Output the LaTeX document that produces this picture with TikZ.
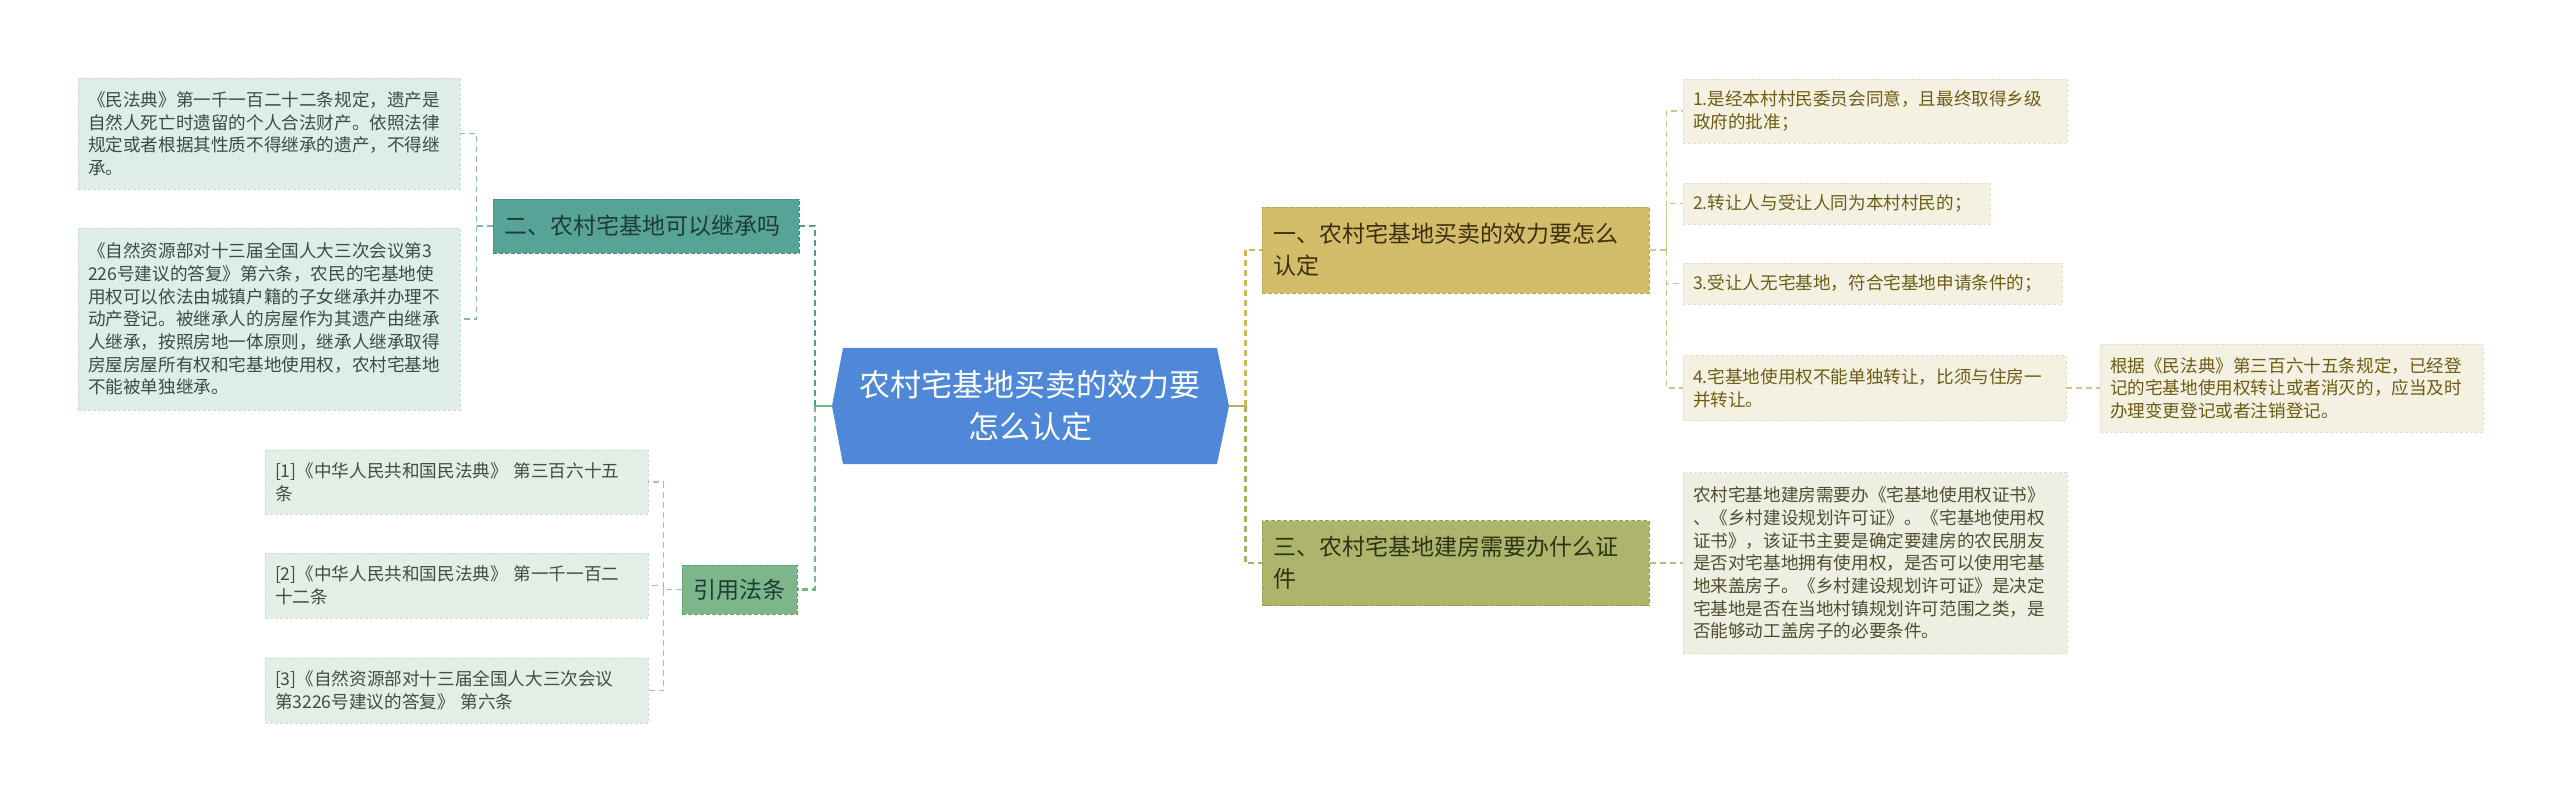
\documentclass[tikz,border=0pt]{standalone}
\usepackage{fontspec}
\setmainfont{Noto Sans CJK SC}
\usetikzlibrary{calc}
\definecolor{rootblue}{HTML}{4F87D9}
\definecolor{tealfill}{HTML}{57A398}
\definecolor{tealdraw}{HTML}{3F8E82}
\definecolor{tealtext}{HTML}{1E3B36}
\definecolor{greenfill}{HTML}{7DB68A}
\definecolor{greendraw}{HTML}{5E9C6D}
\definecolor{goldfill}{HTML}{D4BD6A}
\definecolor{golddraw}{HTML}{BFA550}
\definecolor{goldtext}{HTML}{3A2F0F}
\definecolor{olivefill}{HTML}{ACB56B}
\definecolor{olivedraw}{HTML}{939C52}
\definecolor{olivetext}{HTML}{2F3315}
\definecolor{lleaffill}{HTML}{DEECEA}
\definecolor{lleafdraw}{HTML}{C6DCD8}
\definecolor{lleaftext}{HTML}{3C4B48}
\definecolor{rleaffill}{HTML}{E2EEE6}
\definecolor{rleafdraw}{HTML}{CCE0D2}
\definecolor{rleaftext}{HTML}{3E4E44}
\definecolor{ileaffill}{HTML}{F4F1E2}
\definecolor{ileafdraw}{HTML}{E6DFC4}
\definecolor{ileaftext}{HTML}{6E5B14}
\definecolor{tleaffill}{HTML}{EEEFE2}
\definecolor{tleafdraw}{HTML}{DDDFC8}
\definecolor{tleaftext}{HTML}{4E4E2E}
\definecolor{trunkteal}{HTML}{4F9E90}
\definecolor{trunkgreen}{HTML}{78B487}
\definecolor{trunkgold}{HTML}{D0B85E}
\definecolor{trunkolive}{HTML}{A9B060}
\definecolor{twigteal}{HTML}{86B8AF}
\definecolor{twiggreen}{HTML}{9CC7A6}
\definecolor{twiggold}{HTML}{D3C38A}
\definecolor{twigolive}{HTML}{B6BC86}
\newcommand\leafsize{\fontsize{17.6}{22.7}\selectfont}
\newcommand\branchsize{\fontsize{23}{32}\selectfont}
\newcommand\rootsize{\fontsize{31}{42}\selectfont}
\tikzset{
  leafbox/.style={line width=0.9pt, dash pattern=on 3pt off 2pt, inner xsep=10pt, inner ysep=0pt, align=left, font=\leafsize},
  lleaf/.style={leafbox, fill=lleaffill, draw=lleafdraw, text=lleaftext},
  rleaf/.style={leafbox, fill=rleaffill, draw=rleafdraw, text=rleaftext},
  ileaf/.style={leafbox, fill=ileaffill, draw=ileafdraw, text=ileaftext},
  tleaf/.style={leafbox, fill=tleaffill, draw=tleafdraw, text=tleaftext},
  bnode/.style={line width=1pt, dash pattern=on 4pt off 2pt, inner xsep=11pt, inner ysep=0pt, align=left, font=\branchsize},
  trunk/.style={line width=2.6pt, dash pattern=on 6pt off 4pt},
  trunksolid/.style={line width=2.6pt},
  twig/.style={line width=1.4pt, dash pattern=on 6pt off 4pt},
}
\begin{document}
\begin{tikzpicture}[x=1pt,y=-1pt]
\useasboundingbox (0,0) rectangle (2560,801);

% root hexagon (drawn first, text node on top)
\fill[rootblue] (843,348) -- (1217,348) -- (1229,406) -- (1217,464) -- (843,464) -- (832,406) -- cycle;
\node[inner sep=0pt, minimum width=374pt, minimum height=116pt, text width=374pt, align=center, text=white, font=\rootsize] (root) at (1030,406) {农村宅基地买卖的效力要\\怎么认定};
\coordinate (rootL) at ($(root.west)+(-11,0)$);
\coordinate (rootR) at ($(root.east)+(12,0)$);

% left branches
\node[bnode, fill=tealfill, draw=tealdraw, text=tealtext, text width=284pt, minimum height=54pt] (two) at (646,226) {二、农村宅基地可以继承吗};
\node[bnode, fill=greenfill, draw=greendraw, text=tealtext, inner xsep=10pt, text width=95pt, align=center, minimum height=49pt] (cite) at (739.5,589.5) {引用法条};

\node[lleaf, text width=362pt, minimum height=111pt] (l1) at (269,133.5) {《民法典》第一千一百二十二条规定，遗产是\\自然人死亡时遗留的个人合法财产。依照法律\\规定或者根据其性质不得继承的遗产，不得继\\承。};
\node[lleaf, text width=362pt, minimum height=182pt] (l2) at (269,319) {《自然资源部对十三届全国人大三次会议第3\\226号建议的答复》第六条，农民的宅基地使\\用权可以依法由城镇户籍的子女继承并办理不\\动产登记。被继承人的房屋作为其遗产由继承\\人继承，按照房地一体原则，继承人继承取得\\房屋房屋所有权和宅基地使用权，农村宅基地\\不能被单独继承。};

\node[rleaf, text width=363pt, minimum height=64pt] (r1) at (456.5,482) {[1]《中华人民共和国民法典》 第三百六十五\\条};
\node[rleaf, text width=363pt, minimum height=65pt] (r2) at (456.5,585.5) {[2]《中华人民共和国民法典》 第一千一百二\\十二条};
\node[rleaf, text width=363pt, minimum height=65pt] (r3) at (456.5,690.5) {[3]《自然资源部对十三届全国人大三次会议\\第3226号建议的答复》 第六条};

% right branches
\node[bnode, fill=goldfill, draw=golddraw, text=goldtext, text width=365pt, minimum height=86pt] (one) at (1455.5,250) {一、农村宅基地买卖的效力要怎么\\认定};
\node[bnode, fill=olivefill, draw=olivedraw, text=olivetext, text width=365pt, minimum height=85pt] (three) at (1455.5,563) {三、农村宅基地建房需要办什么证\\件};

\node[ileaf, text width=364pt, minimum height=64pt] (i1) at (1875,111) {1.是经本村村民委员会同意，且最终取得乡级\\政府的批准；};
\node[ileaf, text width=287pt, minimum height=41pt] (i2) at (1836.5,203.5) {2.转让人与受让人同为本村村民的；};
\node[ileaf, text width=359pt, minimum height=41pt] (i3) at (1872.5,283.5) {3.受让人无宅基地，符合宅基地申请条件的；};
\node[ileaf, text width=363pt, minimum height=65pt] (i4) at (1874.5,388) {4.宅基地使用权不能单独转让，比须与住房一\\并转让。};
\node[ileaf, text width=363pt, minimum height=88pt] (i5) at (2291.5,388) {根据《民法典》第三百六十五条规定，已经登\\记的宅基地使用权转让或者消灭的，应当及时\\办理变更登记或者注销登记。};
\node[tleaf, text width=364pt, minimum height=181pt] (t1) at (1875,563) {农村宅基地建房需要办《宅基地使用权证书》\\、《乡村建设规划许可证》。《宅基地使用权\\证书》，该证书主要是确定要建房的农民朋友\\是否对宅基地拥有使用权，是否可以使用宅基\\地来盖房子。《乡村建设规划许可证》是决定\\宅基地是否在当地村镇规划许可范围之类，是\\否能够动工盖房子的必要条件。};

% trunk connectors
\draw[trunksolid, trunkgreen] (rootL) -- ++(-17,0) coordinate (jl);
\draw[trunk, trunkteal] (jl) |- (two.east);
\draw[trunk, trunkgreen] (jl) |- (cite.east);
\draw[trunksolid, trunkolive] (rootR) -- ++(16,0) coordinate (jr);
\draw[trunk, trunkgold] (jr) |- (one.west);
\draw[trunk, trunkolive] (jr) |- (three.west);

% twig connectors
\draw[twig, twigteal] (two.west) -- ++(-16,0) coordinate (j2) |- (l1.east);
\draw[twig, twigteal] (j2) |- (l2.east);
\draw[twig, twiggreen] (cite.west) -- ++(-18,0) coordinate (jc) |- (r1.east);
\draw[twig, twiggreen] (jc) |- (r2.east);
\draw[twig, twiggreen] (jc) |- (r3.east);
\draw[twig, twiggold] (one.east) -- ++(17,0) coordinate (j1) |- (i1.west);
\draw[twig, twiggold] (j1) |- (i2.west);
\draw[twig, twiggold] (j1) |- (i3.west);
\draw[twig, twiggold] (j1) |- (i4.west);
\draw[twig, twiggold] (i4.east) -- (i5.west);
\draw[twig, twigolive] (three.east) -- (t1.west);
\end{tikzpicture}
\end{document}
